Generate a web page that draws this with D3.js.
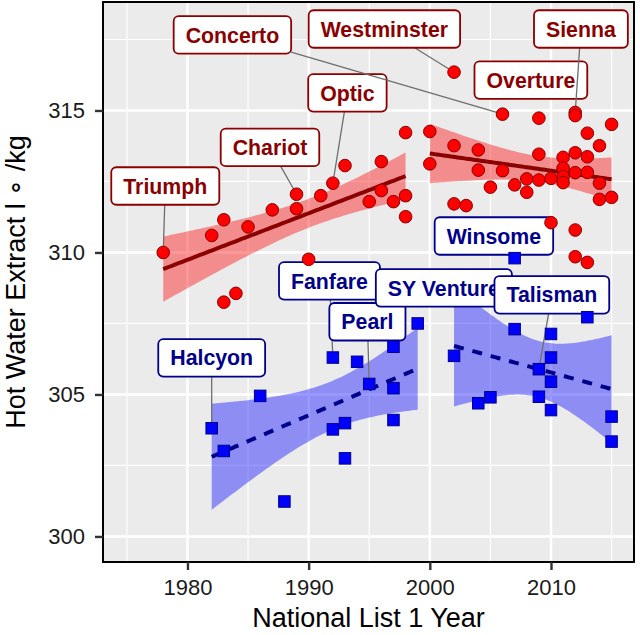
<!DOCTYPE html>
<html><head><meta charset="utf-8">
<script src="https://cdn.jsdelivr.net/npm/d3@7"></script>
<style>body{margin:0;background:#fff}svg{display:block}</style>
</head><body>
<svg id="c" width="640" height="635"></svg>
<script>
// ---------- data ----------
const redEarlyYears  = [1978,1982,1983,1983,1984,1985,1987,1989,1989,1990,1991,1992,1993,1995,1996,1996,1997,1998,1998,1998];
const redEarlyValues = [310.0,310.6,311.15,308.25,308.56,310.9,311.5,312.05,311.54,309.76,312.0,312.44,313.06,311.79,313.2,312.18,311.79,314.22,312.0,311.26];
const redLateYears   = [2000,2000,2002,2002,2002,2003,2004,2004,2005,2006,2006,2007,2008,2008,2009,2009,2009,2010,2010,2011,2011,2011,2011,2012,2012,2012,2012,2012,2012,2013,2013,2013,2013,2014,2014,2014,2015,2015];
const redLateValues  = [314.26,313.12,316.35,313.76,311.71,311.65,313.61,312.9,312.3,314.87,312.88,312.38,312.59,312.12,314.73,313.46,312.55,312.61,311.05,313.35,312.97,312.67,312.46,314.93,314.82,313.51,312.81,310.79,309.85,314.2,313.37,312.82,309.65,313.76,312.44,311.87,314.51,311.94];
const blueEarlyYears  = [1982,1983,1986,1988,1992,1992,1993,1993,1994,1995,1997,1997,1997,1999];
const blueEarlyValues = [303.81,303.01,304.95,301.23,306.3,303.77,303.99,302.75,306.15,305.37,306.68,305.22,304.1,307.5];
const blueLateYears   = [2002,2004,2005,2007,2007,2009,2009,2010,2010,2010,2010,2013,2015,2015];
const blueLateValues  = [306.36,304.69,304.9,309.8,307.3,305.89,304.92,307.13,306.3,305.45,304.45,307.72,304.22,303.34];

const labelNames  = ["Triumph","Chariot","Optic","Concerto","Westminster","Overture","Sienna","Halcyon","Fanfare","Pearl","SY Venture","Winsome","Talisman"];
const labelSeries = ["red","red","red","red","red","red","red","blue","blue","blue","blue","blue","blue"];
const labelYears  = [1978,1989,1992,2006,2002,2009,2012,1982,1992,1995,1999,2007,2009];
const labelValues = [310.0,312.05,312.44,314.87,316.35,314.73,314.93,303.81,306.3,305.37,307.5,309.8,305.89];

const xMajorTicks = [1980,1990,2000,2010];
const xMinorTicks = [1975,1985,1995,2005,2015];
const yMajorTicks = [300,305,310,315];
const yMinorTicks = [302.5,307.5,312.5,317.5];

const xTitle = "National List 1 Year";
const yTitle = "Hot Water Extract l \u2218 /kg";

// ---------- layout (label box centres, in data units) ----------
const labelBoxLayout = {
  "Triumph":[1978.17,312.34], "Chariot":[1986.81,313.70], "Optic":[1993.2,315.62],
  "Concerto":[1983.71,317.66], "Westminster":[1996.25,317.87], "Overture":[2008.34,316.07],
  "Sienna":[2012.47,317.87], "Halcyon":[1982.0,306.29], "Fanfare":[1991.72,309.0],
  "Pearl":[1994.85,307.56], "SY Venture":[2001.16,308.75], "Winsome":[2005.29,310.58],
  "Talisman":[2010.07,308.51]
};

const L=103,R=634,T=2,B=562;
const svg=d3.select('#c');
const x=d3.scaleLinear().domain([1973.03,2016.85]).range([L,R]);
const y=d3.scaleLinear().domain([299.1,318.82]).range([B,T]);
const FONT='"Liberation Sans", Arial, Helvetica, sans-serif';

svg.append('rect').attr('x',0).attr('y',0).attr('width',640).attr('height',635).attr('fill','#fff');
svg.append('rect').attr('x',L).attr('y',T).attr('width',R-L).attr('height',B-T).attr('fill','#EBEBEB');

const grid=svg.append('g');
grid.selectAll('.vmin').data(xMinorTicks).join('line').attr('x1',d=>x(d)).attr('x2',d=>x(d)).attr('y1',T).attr('y2',B).attr('stroke','#fff').attr('stroke-width',1.2);
grid.selectAll('.hmin').data(yMinorTicks).join('line').attr('y1',d=>y(d)).attr('y2',d=>y(d)).attr('x1',L).attr('x2',R).attr('stroke','#fff').attr('stroke-width',1.2);
grid.selectAll('.vmaj').data(xMajorTicks).join('line').attr('x1',d=>x(d)).attr('x2',d=>x(d)).attr('y1',T).attr('y2',B).attr('stroke','#fff').attr('stroke-width',2.4);
grid.selectAll('.hmaj').data(yMajorTicks).join('line').attr('y1',d=>y(d)).attr('y2',d=>y(d)).attr('x1',L).attr('x2',R).attr('stroke','#fff').attr('stroke-width',2.4);

// ---------- linear model with 95% CI ----------
function tq975(df){
  const z=1.959964, z3=z*z*z, z5=z3*z*z, z7=z5*z*z, z9=z7*z*z;
  const g1=(z3+z)/4, g2=(5*z5+16*z3+3*z)/96, g3=(3*z7+19*z5+17*z3-15*z)/384,
        g4=(79*z9+776*z7+1482*z5-1920*z3-945*z)/92160;
  return z+g1/df+g2/(df*df)+g3/Math.pow(df,3)+g4/Math.pow(df,4);
}
function lmFit(xs,ys){
  const n=xs.length, mx=d3.mean(xs), my=d3.mean(ys);
  let sxx=0,sxy=0; xs.forEach((v,i)=>{sxx+=(v-mx)*(v-mx); sxy+=(v-mx)*(ys[i]-my);});
  const b=sxy/sxx, a=my-b*mx;
  let sse=0; xs.forEach((v,i)=>{const r=ys[i]-(a+b*v); sse+=r*r;});
  const s2=sse/(n-2), t=tq975(n-2);
  const lo=d3.min(xs), hi=d3.max(xs);
  return d3.range(80).map(k=>{
    const xv=lo+(hi-lo)*k/79, f=a+b*xv, se=Math.sqrt(s2*(1/n+(xv-mx)*(xv-mx)/sxx));
    return {x:xv,f:f,lo:f-t*se,hi:f+t*se};
  });
}
const groups=[
  {xs:redEarlyYears,ys:redEarlyValues,fill:'rgba(255,0,0,0.4)',line:'#8B0000',dash:null},
  {xs:redLateYears,ys:redLateValues,fill:'rgba(255,0,0,0.4)',line:'#8B0000',dash:null},
  {xs:blueEarlyYears,ys:blueEarlyValues,fill:'rgba(0,0,255,0.4)',line:'#00008B',dash:'10,9'},
  {xs:blueLateYears,ys:blueLateValues,fill:'rgba(0,0,255,0.4)',line:'#00008B',dash:'10,9'}
];
const area=d3.area().x(d=>x(d.x)).y0(d=>y(d.lo)).y1(d=>y(d.hi));
const line=d3.line().x(d=>x(d.x)).y(d=>y(d.f));
const smooth=svg.append('g');
groups.forEach(g=>{
  const fit=lmFit(g.xs,g.ys);
  smooth.append('path').attr('d',area(fit)).attr('fill',g.fill);
  const p=smooth.append('path').attr('d',line(fit)).attr('fill','none').attr('stroke',g.line).attr('stroke-width',4);
  if(g.dash) p.attr('stroke-dasharray',g.dash);
});

// ---------- labels ----------
const lab=svg.append('g');
const PAD=12, BH=37.5, PR=6;
labelNames.forEach((name,i)=>{
  const col = labelSeries[i]==='red' ? '#8B0000' : '#00008B';
  const cx=x(labelBoxLayout[name][0]), cy=y(labelBoxLayout[name][1]);
  const px=x(labelYears[i]), py=y(labelValues[i]);
  const g=lab.append('g');
  const segG=g.append('g');
  const rect=g.append('rect');
  const txt=g.append('text').attr('x',cx).attr('y',cy+0.36*21.3).attr('text-anchor','middle')
     .attr('font-family',FONT).attr('font-weight','bold').attr('font-size',21.3).attr('fill',col).text(name);
  const w=txt.node().getComputedTextLength()+2*PAD;
  rect.attr('x',cx-w/2).attr('y',cy-BH/2).attr('width',w).attr('height',BH).attr('rx',5).attr('ry',5)
     .attr('fill','#fff').attr('stroke',col).attr('stroke-width',1.8);
  const dx=px-cx, dy=py-cy;
  const tt=Math.min(dx!==0?(w/2)/Math.abs(dx):Infinity, dy!==0?(BH/2)/Math.abs(dy):Infinity);
  if(tt<1){
    const sx=cx+dx*tt, sy=cy+dy*tt;
    const len=Math.hypot(px-sx,py-sy);
    if(len-PR>15){
      const ex=px-(px-sx)/len*PR, ey=py-(py-sy)/len*PR;
      segG.append('line').attr('x1',sx).attr('y1',sy).attr('x2',ex).attr('y2',ey).attr('stroke','#6e6e6e').attr('stroke-width',1.3);
    }
  }
});

// ---------- points ----------
const pts=svg.append('g');
const blueAll=blueEarlyYears.map((v,i)=>[v,blueEarlyValues[i]]).concat(blueLateYears.map((v,i)=>[v,blueLateValues[i]]));
const redAll=redEarlyYears.map((v,i)=>[v,redEarlyValues[i]]).concat(redLateYears.map((v,i)=>[v,redLateValues[i]]));
const S=11.5;
pts.selectAll('rect.b').data(blueAll).join('rect').attr('x',d=>x(d[0])-S/2).attr('y',d=>y(d[1])-S/2).attr('width',S).attr('height',S)
  .attr('fill','#0000FF').attr('stroke','#00008B').attr('stroke-width',1);
pts.selectAll('circle.r').data(redAll).join('circle').attr('cx',d=>x(d[0])).attr('cy',d=>y(d[1])).attr('r',6.3)
  .attr('fill','#FF0000').attr('stroke','#8B0000').attr('stroke-width',1);

// ---------- border ----------
svg.append('rect').attr('x',L).attr('y',T).attr('width',R-L).attr('height',B-T).attr('fill','none').attr('stroke','#000').attr('stroke-width',2);

// ---------- axes ----------
const gx=svg.append('g').attr('transform',`translate(0,${B})`)
  .call(d3.axisBottom(x).tickValues(xMajorTicks).tickFormat(d3.format('d')).tickSize(8).tickPadding(9));
gx.select('.domain').remove();
gx.selectAll('line').attr('stroke','#333').attr('stroke-width',2.4);
gx.attr('font-size',22).attr('font-family',FONT);
gx.selectAll('text').attr('fill','#1a1a1a');

const gy=svg.append('g').attr('transform',`translate(${L},0)`)
  .call(d3.axisLeft(y).tickValues(yMajorTicks).tickSize(8).tickPadding(10));
gy.select('.domain').remove();
gy.selectAll('line').attr('stroke','#333').attr('stroke-width',2.4);
gy.attr('font-size',22).attr('font-family',FONT);
gy.selectAll('text').attr('fill','#1a1a1a');

svg.append('text').attr('x',(L+R)/2).attr('y',627).attr('text-anchor','middle')
  .attr('font-family',FONT).attr('font-size',27).attr('fill','#000').text(xTitle);
svg.append('text').attr('transform',`translate(25,${(T+B)/2}) rotate(-90)`).attr('text-anchor','middle')
  .attr('font-family',FONT).attr('font-size',27).attr('fill','#000').text(yTitle);
</script>
</body></html>
